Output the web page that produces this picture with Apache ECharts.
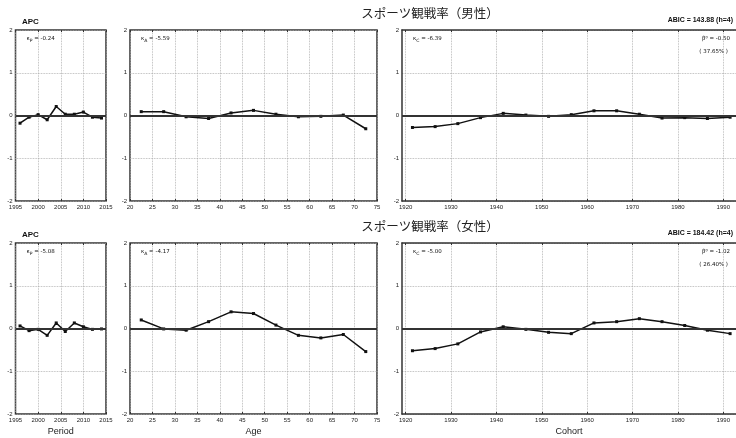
<!DOCTYPE html>
<html>
<head>
<meta charset="utf-8">
<style>
  html, body { margin: 0; padding: 0; background: #fff; }
  #myChart { width: 736px; height: 438px; }
</style>
<script src="https://cdn.jsdelivr.net/npm/echarts@6/dist/echarts.min.js"></script>
</head>
<body>
<div id="myChart"></div>
<script>
// x positions (mid points of each group)
const periodYears = [1996, 1998, 2000, 2002, 2004, 2006, 2008, 2010, 2012, 2014]
const ageMid = [22.5, 27.5, 32.5, 37.5, 42.5, 47.5, 52.5, 57.5, 62.5, 67.5, 72.5]
const cohortMid = [1921.5, 1926.5, 1931.5, 1936.5, 1941.5, 1946.5, 1951.5, 1956.5, 1961.5, 1966.5, 1971.5, 1976.5, 1981.5, 1986.5, 1991.5]

// 男性
const malePeriod = [-0.18, -0.04, 0.02, -0.10, 0.21, 0.03, 0.03, 0.08, -0.04, -0.06]
const maleAge = [0.09, 0.09, -0.03, -0.07, 0.06, 0.12, 0.03, -0.03, -0.02, 0.01, -0.31]
const maleCohort = [-0.28, -0.26, -0.19, -0.05, 0.05, 0.01, -0.02, 0.02, 0.11, 0.11, 0.03, -0.06, -0.05, -0.07, -0.04]

// 女性
const femalePeriod = [0.06, -0.05, -0.02, -0.16, 0.13, -0.07, 0.13, 0.04, -0.02, -0.01]
const femaleAge = [0.20, -0.01, -0.04, 0.16, 0.39, 0.35, 0.08, -0.16, -0.22, -0.14, -0.54]
const femaleCohort = [-0.52, -0.47, -0.36, -0.08, 0.04, -0.02, -0.09, -0.12, 0.13, 0.16, 0.23, 0.16, 0.07, -0.04, -0.12]

// tick labels
const periodTicks = [1995, 2000, 2005, 2010, 2015]
const ageTicks = [20, 25, 30, 35, 40, 45, 50, 55, 60, 65, 70, 75]
const cohortTicks = [1920, 1930, 1940, 1950, 1960, 1970, 1980, 1990]
const yTicks = [-2, -1, 0, 1, 2]

const titles = ['スポーツ観戦率（男性）', 'スポーツ観戦率（女性）']
const abic = ['ABIC = 143.88 (h=4)', 'ABIC = 184.42 (h=4)']
const kappaP = ['-0.24', '-5.08']
const kappaA = ['-5.59', '-4.17']
const kappaC = ['-6.39', '-5.00']
const beta0 = ['-0.50', '-1.02']
const betaPct = ['( 37.65% )', '( 26.40% )']
const axisNames = ['Period', 'Age', 'Cohort']

const rows = [{ top: 30, height: 171 }, { top: 243, height: 171 }]
const cols = [
  { left: 15.5, right: 630, min: 1995, max: 2015, ticks: periodTicks, xs: periodYears, open: false },
  { left: 130, right: 359, min: 20, max: 75, ticks: ageTicks, xs: ageMid, open: false },
  // the cohort panel runs past the right edge of the picture, so no right border
  { left: 402, right: 0, min: 1919.2, max: 1992.8, ticks: cohortTicks, xs: cohortMid, open: true }
]
const values = [
  [malePeriod, maleAge, maleCohort],
  [femalePeriod, femaleAge, femaleCohort]
]

const labelFont = 'Liberation Sans'
const frame = { color: '#333', width: 1.5 }
const plain = function (v) { return String(v) }
const grid = []
const xAxis = []
const yAxis = []
const series = []
const graphic = []

rows.forEach(function (row, r) {
  cols.forEach(function (col, c) {
    const g = grid.length
    grid.push({
      left: col.left,
      right: col.right,
      top: row.top,
      height: row.height,
      show: !col.open,
      borderColor: frame.color,
      borderWidth: frame.width,
      backgroundColor: 'transparent'
    })
    xAxis.push({
      type: 'value',
      gridIndex: g,
      min: col.min,
      max: col.max,
      name: r === 1 ? axisNames[c] : '',
      nameLocation: 'middle',
      nameGap: 13,
      nameTextStyle: { fontFamily: labelFont, fontSize: 9, color: '#222' },
      axisLine: { show: col.open, onZero: false, lineStyle: frame },
      axisTick: { show: true, inside: true, length: 2, customValues: col.ticks, lineStyle: { color: '#333' } },
      axisLabel: { fontFamily: labelFont, fontSize: 6, color: '#222', margin: 3, customValues: col.ticks, formatter: plain },
      splitLine: { show: true, lineStyle: { color: '#aaa', width: 0.8, type: 'dotted' } }
    })
    xAxis.push({
      type: 'value',
      gridIndex: g,
      position: 'top',
      min: col.min,
      max: col.max,
      axisLine: { show: col.open, onZero: false, lineStyle: frame },
      axisTick: { show: true, inside: true, length: 2, customValues: col.ticks, lineStyle: { color: '#333' } },
      axisLabel: { show: false },
      splitLine: { show: false }
    })
    yAxis.push({
      type: 'value',
      gridIndex: g,
      min: -2,
      max: 2,
      interval: 1,
      axisLine: { show: col.open, onZero: false, lineStyle: frame },
      axisTick: { show: false },
      axisLabel: { fontFamily: labelFont, fontSize: 6, color: '#222', margin: 3, customValues: yTicks, formatter: plain },
      splitLine: { show: true, lineStyle: { color: '#aaa', width: 0.8, type: 'dotted' } }
    })
    series.push({
      type: 'line',
      xAxisIndex: g * 2,
      yAxisIndex: g,
      data: col.xs.map(function (x, i) { return [x, values[r][c][i]] }),
      symbol: 'rect',
      symbolSize: 3,
      lineStyle: { color: '#111', width: 1.5 },
      itemStyle: { color: '#111' },
      markLine: {
        silent: true,
        symbol: 'none',
        label: { show: false },
        lineStyle: { color: '#333', width: 2, type: 'solid' },
        data: [{ yAxis: 0 }]
      },
      animation: false
    })
  })

  const top = row.top
  // row title
  graphic.push({
    type: 'text', x: 430, y: top - 17,
    style: { text: titles[r], font: '12.5px "Noto Sans CJK JP"', fill: '#222', align: 'center', verticalAlign: 'middle' }
  })
  graphic.push({
    type: 'text', x: 22, y: top - 8,
    style: { text: 'APC', font: 'bold 8px "Liberation Sans"', fill: '#111', align: 'left', verticalAlign: 'middle' }
  })
  graphic.push({
    type: 'text', x: 733, y: top - 10,
    style: { text: abic[r], font: 'bold 7px "Liberation Sans"', fill: '#111', align: 'right', verticalAlign: 'middle' }
  })
  const kappas = [['P', kappaP[r]], ['A', kappaA[r]], ['C', kappaC[r]]]
  kappas.forEach(function (k, c) {
    graphic.push({
      type: 'text', x: cols[c].left + 11, y: top + 9,
      style: {
        text: 'κ{s|' + k[0] + '} = ' + k[1],
        font: '5.5px "DejaVu Sans"',
        fill: '#111',
        align: 'left',
        verticalAlign: 'middle',
        rich: { s: { fontSize: 4.5, fontFamily: 'DejaVu Sans', padding: [3, 0, 0, 0] } }
      }
    })
  })
  graphic.push({
    type: 'text', x: 730, y: top + 9,
    style: { text: 'β⁰ = ' + beta0[r], font: '5.5px "DejaVu Sans"', fill: '#111', align: 'right', verticalAlign: 'middle' }
  })
  graphic.push({
    type: 'text', x: 728, y: top + 22,
    style: { text: betaPct[r], font: '5.5px "DejaVu Sans"', fill: '#111', align: 'right', verticalAlign: 'middle' }
  })
})

let myChart = echarts.init(document.getElementById('myChart'))
myChart.setOption({
  animation: false,
  grid: grid,
  xAxis: xAxis,
  yAxis: yAxis,
  series: series,
  graphic: graphic
})
</script>
</body>
</html>
